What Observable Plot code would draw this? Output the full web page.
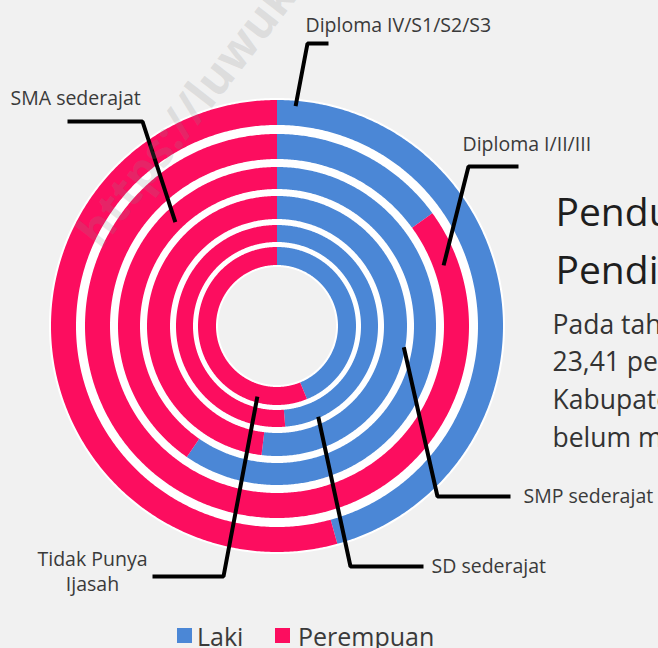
<!DOCTYPE html>
<html><head><meta charset="utf-8">
<script src="https://cdn.jsdelivr.net/npm/d3@7"></script>
<script src="https://cdn.jsdelivr.net/npm/@observablehq/plot@0.6"></script>
<style>
html,body{margin:0;padding:0;background:#f1f1f1;overflow:hidden;width:658px;height:648px;position:relative}
#chart{position:absolute;left:0;top:0}
#legend{position:absolute;left:0;top:620px;width:658px;height:28px;font-family:"Open Sans";font-size:25px;line-height:25px;color:#3a3a3a}
#legend .sw{position:absolute;top:8px;width:15px;height:15px}
#legend .lt{position:absolute;top:4px;white-space:nowrap}
</style></head><body>
<div id="chart"></div>
<div id="legend"></div>
<script>
// ---- data ----
const categories = ["Diploma IV/S1/S2/S3", "Diploma I/II/III", "SMA sederajat", "SMP sederajat", "SD sederajat", "Tidak Punya Ijasah"];
const laki      = [45.7, 15.0, 59.6, 51.9, 48.7, 43.8];
const perempuan = [54.3, 85.0, 40.4, 48.1, 51.3, 56.2];
const sexes = ["Laki", "Perempuan"];
const colors = ["#4b87d6", "#fc0d5f"];
const titleLines = ["Penduduk Menurut", "Pendidikan Tertinggi"];
const bodyLines = ["Pada tahun 2020, sebanyak", "23,41 persen penduduk", "Kabupaten Luwu", "belum memiliki ijazah"];
const watermark = "https://luwukab.bps.go.id";

// ---- layout ----
const W = 658, H = 620, CX = 277, CY = 326;
const rings = [[201, 226], [167, 192], [137, 159], [107, 130], [84, 101], [61, 79]];
// leader: ring index, angle (deg clockwise from top), radius, elbow, end, label position
const leaders = [
  {i: 0, ang: 4.7,   r: 221, elbow: [307, 43],  end: [328, 43],  lx: 305, ly: 31},
  {i: 1, ang: 69.8,  r: 177, elbow: [468, 166], end: [518, 166], lx: 462, ly: 150},
  {i: 2, ang: 315.6, r: 146, elbow: [142, 121], end: [67, 121],  lx: 10,  ly: 104},
  {i: 3, ang: 99.3,  r: 128, elbow: [437, 496], end: [510, 496], lx: 523, ly: 502},
  {i: 4, ang: 155.7, r: 99,  elbow: [350, 566], end: [423, 566], lx: 431, ly: 572},
  {i: 5, ang: 196,   r: 73,  elbow: [223, 576], end: [152, 576], lx: 92,  ly: 565}
];

const rad = a => a * Math.PI / 180;
function band(r0, r1, a0, a1, props) {
  const out = [];
  const n = Math.max(2, Math.ceil((a1 - a0) / 0.5));
  for (let k = 0; k <= n; k++) {
    const a = rad(a0 + (a1 - a0) * k / n);
    out.push({...props,
      x1: CX + r1 * Math.sin(a), y1: CY - r1 * Math.cos(a),
      x2: CX + r0 * Math.sin(a), y2: CY - r0 * Math.cos(a)});
  }
  return out;
}

const halo = band(rings[5][0] - 2, rings[0][1] + 2, 0, 360, {seg: "halo"});
const arcs = [];
categories.forEach((c, i) => {
  const [r0, r1] = rings[i];
  const vals = [laki[i], perempuan[i]];
  const total = vals[0] + vals[1];
  let s = 0;
  vals.forEach((v, j) => {
    arcs.push(...band(r0, r1, s / total * 360, (s + v) / total * 360, {seg: c + "|" + j, sex: sexes[j]}));
    s += v;
  });
});

const leaderPts = [];
const labelStart = [];
const labelMiddle = [];
leaders.forEach((L, k) => {
  const a = rad(L.ang);
  leaderPts.push({id: k, x: CX + L.r * Math.sin(a), y: CY - L.r * Math.cos(a)});
  leaderPts.push({id: k, x: L.elbow[0], y: L.elbow[1]});
  leaderPts.push({id: k, x: L.end[0], y: L.end[1]});
  const name = categories[L.i];
  if (name === "Tidak Punya Ijasah") {
    labelMiddle.push({x: L.lx, y: L.ly, t: "Tidak Punya"});
    labelMiddle.push({x: L.lx, y: L.ly + 25, t: "Ijasah"});
  } else {
    labelStart.push({x: L.lx, y: L.ly, t: name});
  }
});

const titleRows = titleLines.map((t, k) => ({t, x: 555, y: 225 + k * 58}));
const bodyRows = bodyLines.map((t, k) => ({t, x: 552, y: 333 + k * 37.8}));
const labelStyle = {x: "x", y: "y", text: "t", lineAnchor: "bottom", fontFamily: "Open Sans", fontSize: 19.5, fill: "#3a3a3a"};

const plot = Plot.plot({
  width: W, height: H, margin: 0,
  x: {domain: [0, W], range: [0, W], axis: null},
  y: {domain: [0, H], range: [0, H], axis: null},
  color: {domain: sexes, range: colors},
  style: {background: "transparent", overflow: "hidden"},
  marks: [
    Plot.area(halo, {x1: "x1", y1: "y1", x2: "x2", y2: "y2", fill: "#ffffff"}),
    Plot.area(arcs, {x1: "x1", y1: "y1", x2: "x2", y2: "y2", z: "seg", fill: "sex"}),
    Plot.line(leaderPts, {x: "x", y: "y", z: "id", stroke: "#000", strokeWidth: 4, strokeLinejoin: "miter", strokeLinecap: "butt"}),
    Plot.text(labelStart, {...labelStyle, textAnchor: "start"}),
    Plot.text(labelMiddle, {...labelStyle, textAnchor: "middle"}),
    Plot.text(titleRows, {x: "x", y: "y", text: "t", textAnchor: "start", lineAnchor: "bottom",
      fontFamily: "Open Sans", fontSize: 39, fill: "#1e1e1e"}),
    Plot.text(bodyRows, {x: "x", y: "y", text: "t", textAnchor: "start", lineAnchor: "bottom",
      fontFamily: "Open Sans", fontSize: 26.5, fill: "#333"}),
    Plot.text([watermark], {x: 100, y: 250, text: d => d, rotate: -52, textAnchor: "start", lineAnchor: "bottom",
      fontFamily: "Open Sans", fontWeight: "bold", fontSize: 47, fill: "#8a8a8a", fillOpacity: 0.2})
  ]
});
document.getElementById("chart").append(plot);

// legend
const lg = document.getElementById("legend");
const legendPos = [[177, 197], [275, 298]];
sexes.forEach((s, j) => {
  const sw = document.createElement("span");
  sw.className = "sw"; sw.style.left = legendPos[j][0] + "px"; sw.style.background = colors[j];
  const lt = document.createElement("span");
  lt.className = "lt"; lt.style.left = legendPos[j][1] + "px"; lt.textContent = s;
  lg.append(sw, lt);
});
</script>
</body></html>
